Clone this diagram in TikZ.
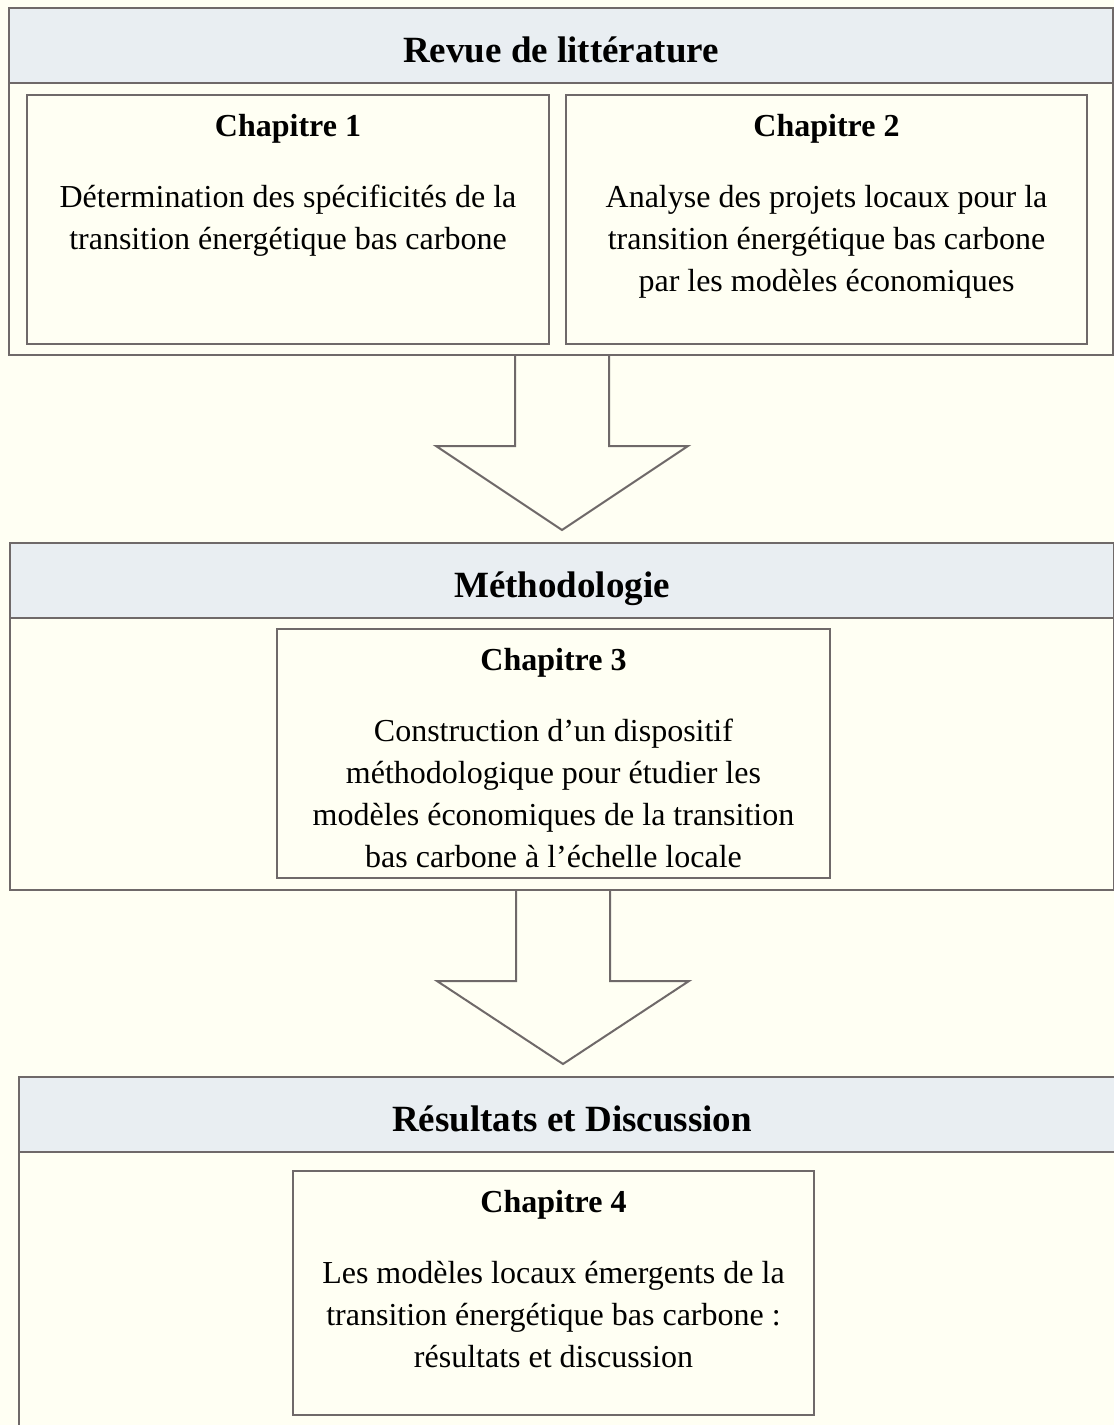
\documentclass[tikz,border=0pt]{standalone}
\usepackage{fontspec}
\setmainfont{Liberation Serif}
\usetikzlibrary{positioning}
\definecolor{cream}{HTML}{FFFFF3}
\definecolor{bandblue}{HTML}{E9EEF2}
\definecolor{edgegray}{HTML}{6F6969}

\begin{document}
\begin{tikzpicture}[x=1pt,y=-1pt,
  part/.style={draw=edgegray,line width=2pt,fill=cream,outer sep=0pt,inner sep=0pt,anchor=north west,minimum width=1104pt},
  band/.style={draw=edgegray,line width=2pt,fill=bandblue,outer sep=0pt,anchor=north west,minimum width=1104pt,minimum height=75pt,text height=34pt,text depth=0pt,font=\fontsize{37}{44}\selectfont\bfseries},
  chapbox/.style={draw=edgegray,line width=2pt,fill=cream,outer sep=0pt,inner sep=0pt,anchor=north west},
  chaptext/.style={anchor=north,align=center,inner sep=0pt,font=\fontsize{32}{42}\selectfont},
  fatarrow/.style={draw=edgegray,line width=2pt,line join=miter}]
  \useasboundingbox[fill=cream] (0,0) rectangle (1114,1425);
  \clip (0,0) rectangle (1114,1425);
  % first part
  \node[part,minimum height=347pt] (revue) at (9,8) {};
  \node[band] (revuehead) at (revue.north west) {Revue de littérature};
  \node[chapbox,minimum width=522pt,minimum height=249pt] (chap1) at (27,95) {};
  \node[chaptext] (chap1txt) at ([yshift=-19pt]chap1.north) {\textbf{Chapitre 1}\\[29pt]Détermination des spécificités de la\\transition énergétique bas carbone};
  \node[chapbox,minimum width=521pt,minimum height=249pt] (chap2) at (566,95) {};
  \node[chaptext] (chap2txt) at ([yshift=-19pt]chap2.north) {\textbf{Chapitre 2}\\[29pt]Analyse des projets locaux pour la\\transition énergétique bas carbone\\par les modèles économiques};
  % second part
  \node[part,minimum height=347pt] (methodo) at (10,543) {};
  \node[band] (methodohead) at (methodo.north west) {Méthodologie};
  \node[chapbox,minimum width=553pt,minimum height=249pt] (chap3) at (277,629) {};
  \node[chaptext] (chap3txt) at ([yshift=-19pt]chap3.north) {\textbf{Chapitre 3}\\[29pt]Construction d’un dispositif\\méthodologique pour étudier les\\modèles économiques de la transition\\bas carbone à l’échelle locale};
  % third part (runs past the right and lower edges)
  \node[part,minimum width=1106pt,minimum height=400pt] (result) at (19,1077) {};
  \node[band,minimum width=1106pt] (resulthead) at (result.north west) {Résultats et Discussion};
  \node[chapbox,minimum width=521pt,minimum height=244pt] (chap4) at (293,1171) {};
  \node[chaptext] (chap4txt) at ([yshift=-19pt]chap4.north) {\textbf{Chapitre 4}\\[29pt]Les modèles locaux émergents de la\\transition énergétique bas carbone :\\résultats et discussion};
  % arrows
  \coordinate (arrow1) at (562,355);
  \coordinate (arrow1tip) at (562,530);
  \coordinate (arrow2) at (563,890);
  \coordinate (arrow2tip) at (563,1064);
  \draw[fatarrow] (arrow1) ++(-47,0) -- ++(0,91) -- ++(-79,0) -- (arrow1tip) -- ++(126,-84) -- ++(-79,0) -- ++(0,-91);
  \draw[fatarrow] (arrow2) ++(-47,0) -- ++(0,91) -- ++(-79,0) -- (arrow2tip) -- ++(126,-83) -- ++(-79,0) -- ++(0,-91);
\end{tikzpicture}
\end{document}
